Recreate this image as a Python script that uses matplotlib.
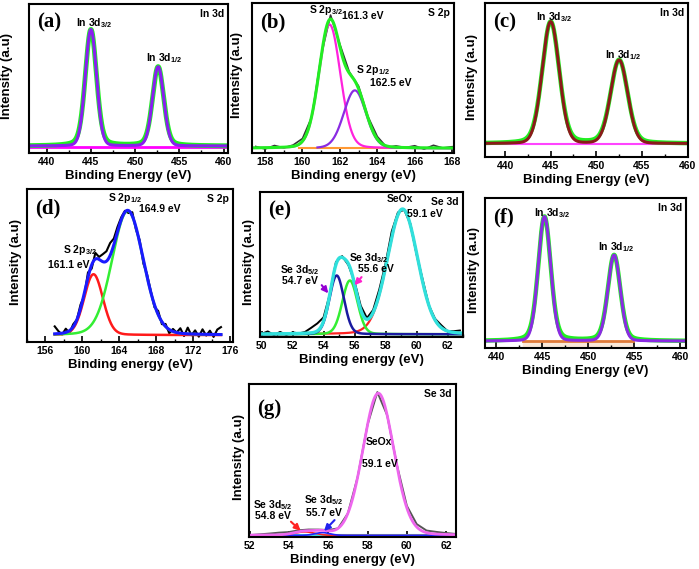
import numpy as np
import matplotlib
matplotlib.use("Agg")
import matplotlib.pyplot as plt
from matplotlib.ticker import MultipleLocator

W, H = 699, 569

# peak parameters: centre (eV), height, FWHM (eV)
# (a) In 3d
a_centers = [445.0, 452.6]
a_heights = [1.0, 0.68]
a_fwhm = [1.5, 1.5]
# (b) S 2p
b_centers = [161.45, 162.8]
b_heights = [0.94, 0.44]
b_fwhm = [1.35, 1.4]
b_noise = [0.01, -0.01, 0.015, -0.005, 0.01, 0.02, -0.01, 0.01, 0.03, 0.02, 0.01,
           0.02, 0.01, 0.02, -0.01, 0.01, 0.0, 0.015, -0.01, 0.02, 0.0, 0.01]
# (c) In 3d
c_centers = [445.0, 452.5]
c_heights = [1.0, 0.685]
c_fwhm = [2.2, 2.2]
# (d) S 2p
d_centers = [161.2, 164.9]
d_heights = [0.49, 1.0]
d_fwhm = [2.4, 4.0]
d_noise = [0.06, 0.02, -0.01, 0.03, -0.02, 0.02, 0.0, 0.03, -0.02, 0.04, -0.03, 0.05,
           0.02, 0.06, 0.08, 0.1, 0.05, 0.04, 0.02, 0.01, -0.02, 0.03, -0.02, 0.02,
           -0.03, 0.02, 0.01, -0.02, 0.03, -0.02, 0.02, -0.03, 0.02, 0.0, 0.04, -0.02,
           0.05, -0.01, 0.03, -0.02, 0.04, -0.01, 0.03, -0.02, 0.04, 0.06]
# (e) Se 3d
e_centers = [54.85, 55.7, 59.1]
e_heights = [0.47, 0.43, 1.0]
e_fwhm = [1.1, 1.15, 2.3]
e_noise = [0.0, 0.02, -0.01, 0.015, -0.01, 0.01, 0.0, 0.01, 0.04, 0.06, 0.03, 0.0,
           0.02, 0.01, -0.01, 0.02, 0.03, 0.01, 0.02, 0.04, 0.03, 0.05, 0.02, 0.0,
           0.01, -0.01, 0.02, 0.0, 0.01, 0.02, 0.0, 0.01, 0.02]
# (f) In 3d
f_centers = [445.25, 452.8]
f_heights = [1.0, 0.69]
f_fwhm = [1.6, 1.6]
# (g) Se 3d
g_centers = [54.8, 55.7, 58.55]
g_heights = [0.025, 0.02, 1.0]
g_fwhm = [1.2, 0.9, 1.85]
g_noise = [0.0, 0.005, 0.01, 0.015, 0.012, 0.01, 0.008, 0.005, 0.005, 0.0, 0.0,
           0.0, 0.0, 0.01, 0.0, 0.01, 0.015, 0.02, 0.015, 0.015, 0.01, 0.005]

plt.rcParams['font.family'] = ['Liberation Sans', 'DejaVu Sans']
plt.rcParams['font.weight'] = 'bold'
plt.rcParams['mathtext.fontset'] = 'custom'
plt.rcParams['mathtext.rm'] = 'Liberation Sans:bold'
plt.rcParams['mathtext.bf'] = 'Liberation Sans:bold'
plt.rcParams['mathtext.it'] = 'Liberation Sans:bold'
plt.rcParams['mathtext.default'] = 'bf'


def pv(x, c, h, w, eta=0.15):
    u = (x - c) / w
    return h * ((1 - eta) * np.exp(-4 * np.log(2) * u ** 2) + eta / (1 + 4 * u ** 2))


def new_axes(fig, l, t, r, b):
    return fig.add_axes([l / W, 1 - b / H, (r - l) / W, (b - t) / H])


def style(ax, xlim, ylim, major, minor, letter, corner, ylab_x, xlabel, letter_y=0.94):
    ax.set_xlim(*xlim)
    ax.set_ylim(*ylim)
    ax.set_yticks([])
    ax.xaxis.set_major_locator(MultipleLocator(major))
    ax.xaxis.set_minor_locator(MultipleLocator(minor))
    ax.tick_params(axis='x', which='major', direction='in', length=4, width=1.2,
                   labelsize=7.5, pad=3)
    ax.tick_params(axis='x', which='minor', direction='in', length=2, width=1)
    for s in ax.spines.values():
        s.set_linewidth(1.5)
    ax.set_xlabel(xlabel, fontsize=9.5, fontweight='bold', labelpad=2)
    ax.set_ylabel('Intensity (a.u)', fontsize=9.5, fontweight='bold')
    ax.yaxis.set_label_coords(ylab_x, 0.52)
    ax.text(0.04, letter_y, letter, transform=ax.transAxes, ha='left', va='top',
            fontsize=15, fontweight='bold', family='Liberation Serif')
    ax.text(0.98, 0.965, corner, transform=ax.transAxes, ha='right', va='top',
            fontsize=7.5, fontweight='bold')


fig = plt.figure(figsize=(W / 100, H / 100), dpi=100)
fs = 7.5

# (a)
ax = new_axes(fig, 29, 4, 228, 153)
x = np.linspace(438, 460.5, 800)
green = sum(pv(x, c, h, w, 0.25) for c, h, w in zip(a_centers, a_heights, a_fwhm))
fit = sum(pv(x, c, h, w, 0.08) for c, h, w in zip(a_centers, a_heights, a_fwhm))
ax.plot(x, np.full_like(x, -0.01), color='#ff00ff', lw=2)
ax.plot(x, green, color='#22ee22', lw=3.5)
ax.plot(x, fit, color='#8a1ef0', lw=2.2)
style(ax, (438, 460.5), (-0.06, 1.22), 5, 2.5, '(a)', 'In 3d', -0.08, 'Binding Energy (eV)')
ax.text(445.3, 1.06, 'In 3d$_{3/2}$', ha='center', va='center', fontsize=fs)
ax.text(453.3, 0.755, 'In 3d$_{1/2}$', ha='center', va='center', fontsize=fs)

# (b)
ax = new_axes(fig, 252, 3, 454, 153)
x = np.linspace(157.3, 168.1, 800)
comps = [pv(x, c, h, w, 0.1) for c, h, w in zip(b_centers, b_heights, b_fwhm)]
env = comps[0] + comps[1]
xn = 157.5 + 0.5 * np.arange(len(b_noise))
yn = sum(pv(xn, c, h, w, 0.1) for c, h, w in zip(b_centers, b_heights, b_fwhm)) + b_noise
ax.plot(xn, yn, color='#333333', lw=1.2)
ax.plot([159.8, 165.2], [0, 0], color='#ff9933', lw=1.5)
ax.plot(x, comps[0], color='#ff22dd', lw=1.6)
ax.plot(x[x > 160.8], comps[1][x > 160.8], color='#8a2be2', lw=1.6)
ax.plot(x, env, color='#22ee22', lw=2.2)
style(ax, (157.3, 168.1), (-0.036, 1.104), 2, 1, '(b)', 'S 2p', -0.045, 'Binding energy (eV)')
ax.text(160.35, 1.051, 'S 2p$_{3/2}$', ha='left', va='center', fontsize=fs)
ax.text(162.1, 1.005, '161.3 eV', ha='left', va='center', fontsize=fs)
ax.text(162.86, 0.595, 'S 2p$_{1/2}$', ha='left', va='center', fontsize=fs)
ax.text(163.6, 0.496, '162.5 eV', ha='left', va='center', fontsize=fs)

# (c)
ax = new_axes(fig, 485, 3, 688, 157)
x = np.linspace(437.8, 460.05, 800)
green = sum(pv(x, c, h, w, 0.2) for c, h, w in zip(c_centers, c_heights, c_fwhm))
fit = sum(pv(x, c, h, w, 0.08) for c, h, w in zip(c_centers, c_heights, c_fwhm))
ax.plot(x, np.full_like(x, -0.005), color='#ff44ff', lw=1.5)
ax.plot(x, green, color='#22ee22', lw=3.2)
ax.plot(x, fit, color='#8b1a1a', lw=2.2)
style(ax, (437.8, 460.05), (-0.11, 1.154), 5, 2.5, '(c)', 'In 3d', -0.034, 'Binding Energy (eV)')
ax.text(445.4, 1.04, 'In 3d$_{3/2}$', ha='center', va='center', fontsize=fs)
ax.text(452.9, 0.726, 'In 3d$_{1/2}$', ha='center', va='center', fontsize=fs)

# (d)
ax = new_axes(fig, 27, 189, 233, 342)
x = np.linspace(157, 175, 800)
comps = [pv(x, c, h, w, 0.1) for c, h, w in zip(d_centers, d_heights, d_fwhm)]
xn = 157.0 + 0.4 * np.arange(len(d_noise))
yn = sum(pv(xn, c, h, w, 0.1) for c, h, w in zip(d_centers, d_heights, d_fwhm)) + d_noise
ax.plot(xn, yn, color='black', lw=1.5)
ax.plot(x, comps[0], color='#ff1a1a', lw=1.8)
ax.plot(x, comps[1], color='#33ee33', lw=1.8)
ax.plot(x, comps[0] + comps[1], color='#1a1aff', lw=2.2)
style(ax, (154, 176.3), (-0.056, 1.177), 4, 2, '(d)', 'S 2p', -0.024, 'Binding energy (eV)')
ax.text(164.6, 1.105, 'S 2p$_{1/2}$', ha='center', va='center', fontsize=fs)
ax.text(166.1, 1.016, '164.9 eV', ha='left', va='center', fontsize=fs)
ax.text(157.9, 0.685, 'S 2p$_{3/2}$', ha='left', va='center', fontsize=fs)
ax.text(156.3, 0.565, '161.1 eV', ha='left', va='center', fontsize=fs)

# (e)
ax = new_axes(fig, 260, 192, 463, 337)
x = np.linspace(50, 62.9, 800)
comps = [pv(x, c, h, w, 0.1) for c, h, w in zip(e_centers, e_heights, e_fwhm)]
xn = 50.0 + 0.4 * np.arange(len(e_noise))
yn = sum(pv(xn, c, h, w, 0.1) for c, h, w in zip(e_centers, e_heights, e_fwhm)) + e_noise
ax.plot(xn, yn, color='black', lw=1.4)
ax.plot(x, comps[2], color='#ff2222', lw=1.6)
ax.plot(x, comps[1], color='#33ee33', lw=1.8)
ax.plot(x, comps[0], color='#1a1aa0', lw=1.8)
ax.plot(x, sum(comps), color='#30e0dc', lw=2.4)
style(ax, (49.9, 63.0), (-0.022, 1.138), 2, 1, '(e)', 'Se 3d', -0.025, 'Binding energy (eV)')
ax.text(58.93, 1.082, 'SeOx', ha='center', va='center', fontsize=fs)
ax.text(59.38, 0.962, '59.1 eV', ha='left', va='center', fontsize=fs)
ax.text(52.5, 0.514, 'Se 3d$_{5/2}$', ha='center', va='center', fontsize=fs)
ax.text(52.5, 0.426, '54.7 eV', ha='center', va='center', fontsize=fs)
ax.text(55.64, 0.61, 'Se 3d$_{3/2}$', ha='left', va='center', fontsize=fs)
ax.text(56.22, 0.522, '55.6 eV', ha='left', va='center', fontsize=fs)
ax.annotate('', xy=(54.42, 0.31), xytext=(53.77, 0.41),
            arrowprops=dict(arrowstyle='-|>', color='#9400d3', lw=1.5, mutation_scale=9))
ax.annotate('', xy=(55.88, 0.375), xytext=(56.57, 0.474),
            arrowprops=dict(arrowstyle='-|>', color='#ff22cc', lw=1.5, mutation_scale=9))

# (f)
ax = new_axes(fig, 485, 198, 686, 348)
x = np.linspace(438.8, 460.6, 800)
green = sum(pv(x, c, h, w, 0.25) for c, h, w in zip(f_centers, f_heights, f_fwhm))
fit = sum(pv(x, c, h, w, 0.08) for c, h, w in zip(f_centers, f_heights, f_fwhm))
ax.fill_between([442.9, 454.8], -0.056, 0, color='#fbe8d8')
ax.plot([442.9, 454.8], [0, 0], color='#e07b39', lw=2)
ax.plot(x, green, color='#22ee22', lw=3.2)
ax.plot(x, fit, color='#8a2be2', lw=2.2)
style(ax, (438.8, 460.6), (-0.056, 1.15), 5, 2.5, '(f)', 'In 3d', -0.025, 'Binding Energy (eV)')
ax.text(446.1, 1.03, 'In 3d$_{3/2}$', ha='center', va='center', fontsize=fs)
ax.text(453.06, 0.756, 'In 3d$_{1/2}$', ha='center', va='center', fontsize=fs)

# (g)
ax = new_axes(fig, 249, 384, 456, 537)
x = np.linspace(52, 62.5, 800)
comps = [pv(x, c, h, w, 0.1) for c, h, w in zip(g_centers, g_heights, g_fwhm)]
xn = 52.0 + 0.5 * np.arange(len(g_noise))
yn = sum(pv(xn, c, h, w, 0.1) for c, h, w in zip(g_centers, g_heights, g_fwhm)) + g_noise
ax.plot(xn, yn, color='#555555', lw=1.4)
ax.plot(x, np.full_like(x, 0.006), color='#44dddd', lw=1.5)
ax.plot(x, comps[0], color='#ff2222', lw=1.2)
ax.plot(x, comps[1], color='#2222ff', lw=1.2)
ax.plot(x, sum(comps), color='#ee66ee', lw=2)
style(ax, (51.97, 62.5), (-0.011, 1.065), 2, 1, '(g)', 'Se 3d', -0.02,
      'Binding energy (eV)', letter_y=0.9)
ax.text(58.6, 0.658, 'SeOx', ha='center', va='center', fontsize=fs)
ax.text(58.62, 0.503, '59.1 eV', ha='center', va='center', fontsize=fs)
ax.text(53.17, 0.216, 'Se 3d$_{5/2}$', ha='center', va='center', fontsize=fs)
ax.text(53.17, 0.138, '54.8 eV', ha='center', va='center', fontsize=fs)
ax.text(55.76, 0.251, 'Se 3d$_{5/2}$', ha='center', va='center', fontsize=fs)
ax.text(55.76, 0.159, '55.7 eV', ha='center', va='center', fontsize=fs)
ax.annotate('', xy=(54.7, 0.02), xytext=(54.0, 0.11),
            arrowprops=dict(arrowstyle='-|>', color='#ff2222', lw=1.5, mutation_scale=9))
ax.annotate('', xy=(55.69, 0.017), xytext=(56.42, 0.122),
            arrowprops=dict(arrowstyle='-|>', color='#2222ee', lw=1.5, mutation_scale=9))

fig.savefig('out.png', dpi=100, facecolor='white')
